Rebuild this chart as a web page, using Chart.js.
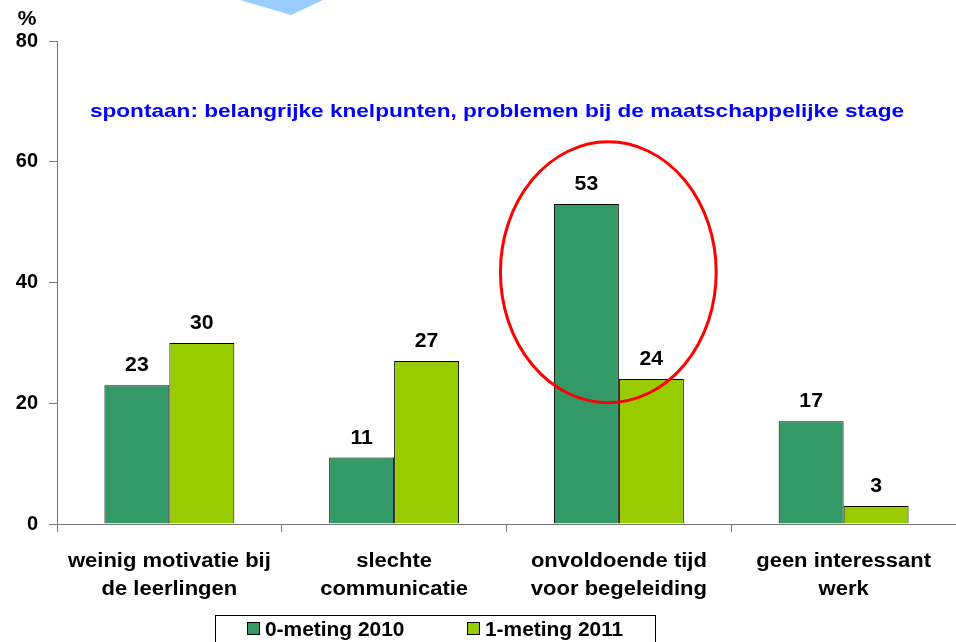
<!DOCTYPE html>
<html>
<head>
<meta charset="utf-8">
<script src="https://cdn.jsdelivr.net/npm/chart.js"></script>
<style>
  html, body { margin: 0; padding: 0; background: #fff; }
  #wrap { width: 956px; height: 642px; }
</style>
</head>
<body>
<div id="wrap"><canvas id="chart" width="956" height="642"></canvas></div>
<script>
// categorieën en waarden (in %)
const categories = [
    ['weinig motivatie bij', 'de leerlingen'],
    ['slechte', 'communicatie'],
    ['onvoldoende tijd', 'voor begeleiding'],
    ['geen interessant', 'werk']
];
const meting2010 = [23, 11, 53, 17];
const meting2011 = [30, 27, 24, 3];
const seriesNames = ['0-meting 2010', '1-meting 2011'];
const seriesColors = ['#339966', '#99CC00'];
const yTicks = [0, 20, 40, 60, 80];
const chartTitle = 'spontaan: belangrijke knelpunten, problemen bij de maatschappelijke stage';

const FONT = 'Arial, "Liberation Sans", sans-serif';

// tekst iets breder tekenen, zoals in de uitgerekte dia
function stretchText(ctx, text, x, y, align, sx) {
    ctx.save();
    ctx.translate(x, y);
    ctx.scale(sx, 1);
    ctx.textAlign = align;
    ctx.fillText(text, 0, 0);
    ctx.restore();
}

// extra tekeningen: titel, labels, %, ellips, legenda, pijl
const decorPlugin = {
    id: 'decor',
    afterDraw(chart) {
        const ctx = chart.ctx;
        const area = chart.chartArea;
        const x = chart.scales.x;
        const y = chart.scales.y;
        ctx.save();

        // blauwe pijlpunt bovenaan (restant van de dia)
        ctx.fillStyle = '#99CCFF';
        ctx.beginPath();
        ctx.moveTo(240, 0);
        ctx.lineTo(323, 0);
        ctx.lineTo(291, 15);
        ctx.closePath();
        ctx.fill();

        ctx.textBaseline = 'middle';

        // % boven de y-as
        ctx.fillStyle = '#000';
        ctx.font = 'bold 20px ' + FONT;
        stretchText(ctx, '%', 27, 19, 'center', 1.05);

        // titel in de grafiek
        ctx.fillStyle = '#0000FF';
        ctx.font = 'bold 19px ' + FONT;
        stretchText(ctx, chartTitle, 497, y.getPixelForValue(68.3), 'center', 1.19);

        // categorielabels onder de x-as
        ctx.fillStyle = '#000';
        ctx.font = 'bold 20px ' + FONT;
        categories.forEach((lines, i) => {
            const cx = x.getPixelForValue(i);
            lines.forEach((line, j) => {
                stretchText(ctx, line, cx, area.bottom + 37 + j * 28, 'center', 1.1);
            });
        });

        // waardelabels boven de staven
        ctx.textBaseline = 'alphabetic';
        chart.data.datasets.forEach((ds, di) => {
            chart.getDatasetMeta(di).data.forEach((bar, i) => {
                stretchText(ctx, String(ds.data[i]), bar.x, bar.y - 14, 'center', 1.06);
            });
        });

        // rode ellips rond 'onvoldoende tijd'
        const catW = x.getPixelForValue(1) - x.getPixelForValue(0);
        const cx = x.getPixelForValue(2) - 0.047 * catW;
        const cy = y.getPixelForValue(41.7);
        const rx = 0.48 * catW;
        const ry = y.getPixelForValue(0) - y.getPixelForValue(21.6);
        ctx.strokeStyle = '#FF0000';
        ctx.lineWidth = 3;
        ctx.beginPath();
        ctx.ellipse(cx, cy, rx, ry, 0, 0, Math.PI * 2);
        ctx.stroke();

        // legenda met kader
        ctx.lineWidth = 1;
        ctx.strokeStyle = '#000';
        ctx.fillStyle = '#fff';
        ctx.fillRect(215.5, 615.5, 440, 40);
        ctx.strokeRect(215.5, 615.5, 440, 40);
        const itemX = [247, 467];
        ctx.font = 'bold 20px ' + FONT;
        ctx.textBaseline = 'middle';
        seriesNames.forEach((name, i) => {
            ctx.fillStyle = seriesColors[i];
            ctx.fillRect(itemX[i] + 0.5, 622.5, 12, 12);
            ctx.strokeStyle = '#000';
            ctx.strokeRect(itemX[i] + 0.5, 622.5, 12, 12);
            ctx.fillStyle = '#000';
            stretchText(ctx, name, itemX[i] + 18, 630, 'left', 1.045);
        });

        ctx.restore();
    }
};

new Chart(document.getElementById('chart'), {
    type: 'bar',
    data: {
        labels: categories,
        datasets: [
            {
                label: seriesNames[0],
                data: meting2010,
                backgroundColor: seriesColors[0],
                borderColor: '#000',
                borderWidth: 1,
                barPercentage: 1,
                categoryPercentage: 0.578
            },
            {
                label: seriesNames[1],
                data: meting2011,
                backgroundColor: seriesColors[1],
                borderColor: '#000',
                borderWidth: 1,
                barPercentage: 1,
                categoryPercentage: 0.578
            }
        ]
    },
    options: {
        responsive: false,
        animation: false,
        layout: { padding: { top: 41, right: 0, bottom: 0, left: 0 } },
        plugins: {
            legend: { display: false },
            tooltip: { enabled: false }
        },
        scales: {
            y: {
                min: 0,
                max: 80,
                afterFit: function(scale) { scale.width = 57; },
                afterBuildTicks: function(scale) {
                    scale.ticks = yTicks.map(v => ({ value: v }));
                },
                border: { color: '#777', width: 1 },
                grid: { drawOnChartArea: false, tickLength: 8, color: '#777' },
                ticks: {
                    color: '#000',
                    padding: 11,
                    font: { family: FONT, size: 20, weight: 'bold' }
                }
            },
            x: {
                afterFit: function(scale) { scale.height = 118; },
                border: { color: '#777', width: 1 },
                grid: { drawOnChartArea: false, tickLength: 8, color: '#777', offset: true },
                ticks: { display: false }
            }
        }
    },
    plugins: [decorPlugin]
});
</script>
</body>
</html>
